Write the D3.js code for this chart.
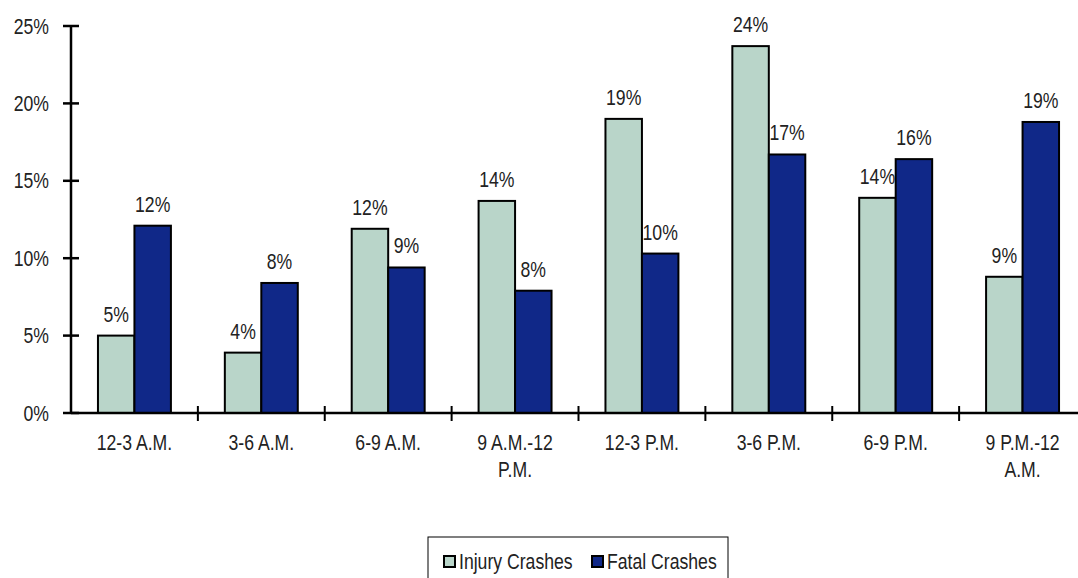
<!DOCTYPE html>
<html lang="en">
<head>
    <meta charset="UTF-8">
    <title>Crashes by Time of Day</title>
    <script src="https://d3js.org/d3.v7.min.js"></script>
    <style>
        body { margin: 0; background: #fff; }
        text { font-family: "Liberation Sans Narrow", "Arial Narrow", "Liberation Sans", sans-serif; fill: #222; }
    </style>
</head>
<body>
    <svg width="1078" height="578"></svg>
    <script>
        // chart data
        const categories = ["12-3 A.M.", "3-6 A.M.", "6-9 A.M.", "9 A.M.-12\nP.M.", "12-3 P.M.", "3-6 P.M.", "6-9 P.M.", "9 P.M.-12\nA.M."];
        const injury = [5.0, 3.9, 11.9, 13.7, 19.0, 23.7, 13.9, 8.8];
        const fatal = [12.1, 8.4, 9.4, 7.9, 10.3, 16.7, 16.4, 18.8];
        const injuryLabels = ["5%", "4%", "12%", "14%", "19%", "24%", "14%", "9%"];
        const fatalLabels = ["12%", "8%", "9%", "8%", "10%", "17%", "16%", "19%"];
        const seriesNames = ["Injury Crashes", "Fatal Crashes"];
        const yTicks = [0, 5, 10, 15, 20, 25];

        const colors = ["#b9d5c9", "#102888"];
        const fontSize = 21.5;
        const squeeze = 0.82; // no narrow font installed, so squeeze the regular one

        const svg = d3.select("svg");

        // places a condensed text at (px, py)
        function narrowText(parent, px, py, anchor) {
            return parent.append("text")
                .attr("transform", "translate(" + px + "," + py + ") scale(" + squeeze + ",1)")
                .attr("text-anchor", anchor || "start")
                .style("font-size", fontSize + "px");
        }

        const x = d3.scaleBand()
            .domain(d3.range(categories.length))
            .range([71, 1086])
            .paddingInner(0.425)
            .paddingOuter(0.2125);
        const xs = d3.scaleBand().domain([0, 1]).range([0, x.bandwidth()]);
        const y = d3.scaleLinear().domain([0, 25]).range([413, 26]);

        // bars
        const series = [injury, fatal];
        const labels = [injuryLabels, fatalLabels];
        series.forEach(function(vals, s) {
            const g = svg.append("g");
            g.selectAll("rect")
                .data(vals)
                .enter().append("rect")
                .attr("x", (d, i) => x(i) + xs(s))
                .attr("y", d => y(d))
                .attr("width", xs.bandwidth())
                .attr("height", d => y(0) - y(d))
                .attr("fill", colors[s])
                .attr("stroke", "#000")
                .attr("stroke-width", 2);
            vals.forEach(function(d, i) {
                narrowText(g, x(i) + xs(s) + xs.bandwidth() / 2, y(d) - 14, "middle")
                    .text(labels[s][i]);
            });
        });

        // y axis
        const yAxis = svg.append("g");
        yAxis.append("line")
            .attr("x1", 71).attr("x2", 71)
            .attr("y1", y(25)).attr("y2", y(0))
            .attr("stroke", "#000").attr("stroke-width", 2.5);
        yAxis.selectAll(".tick")
            .data(yTicks)
            .enter().append("line")
            .attr("x1", 63).attr("x2", 79)
            .attr("y1", d => y(d)).attr("y2", d => y(d))
            .attr("stroke", "#000").attr("stroke-width", 2.5);
        yTicks.forEach(function(d) {
            narrowText(yAxis, 49, y(d) + 7.5, "end").text(d + "%");
        });

        // x axis
        const xAxis = svg.append("g");
        xAxis.append("line")
            .attr("x1", 71).attr("x2", 1086)
            .attr("y1", y(0)).attr("y2", y(0))
            .attr("stroke", "#000").attr("stroke-width", 2.5);
        xAxis.selectAll(".tick")
            .data(d3.range(1, categories.length + 1))
            .enter().append("line")
            .attr("x1", i => x.range()[0] + i * x.step())
            .attr("x2", i => x.range()[0] + i * x.step())
            .attr("y1", y(0) - 7).attr("y2", y(0) + 8)
            .attr("stroke", "#000").attr("stroke-width", 2);
        categories.forEach(function(d, i) {
            const t = narrowText(xAxis, x(i) + x.bandwidth() / 2, 450, "middle");
            d.split("\n").forEach(function(line, k) {
                t.append("tspan")
                    .attr("x", 0)
                    .attr("dy", k === 0 ? 0 : 27)
                    .text(line);
            });
        });

        // legend
        const legend = svg.append("g");
        legend.append("rect")
            .attr("x", 428).attr("y", 537)
            .attr("width", 300).attr("height", 50)
            .attr("fill", "#fff").attr("stroke", "#000").attr("stroke-width", 1);
        const legendX = [444, 592];
        seriesNames.forEach(function(name, s) {
            legend.append("rect")
                .attr("x", legendX[s]).attr("y", 556)
                .attr("width", 11).attr("height", 11)
                .attr("fill", colors[s]).attr("stroke", "#000").attr("stroke-width", 2);
            narrowText(legend, legendX[s] + 15, 569).text(name);
        });
    </script>
</body>
</html>
